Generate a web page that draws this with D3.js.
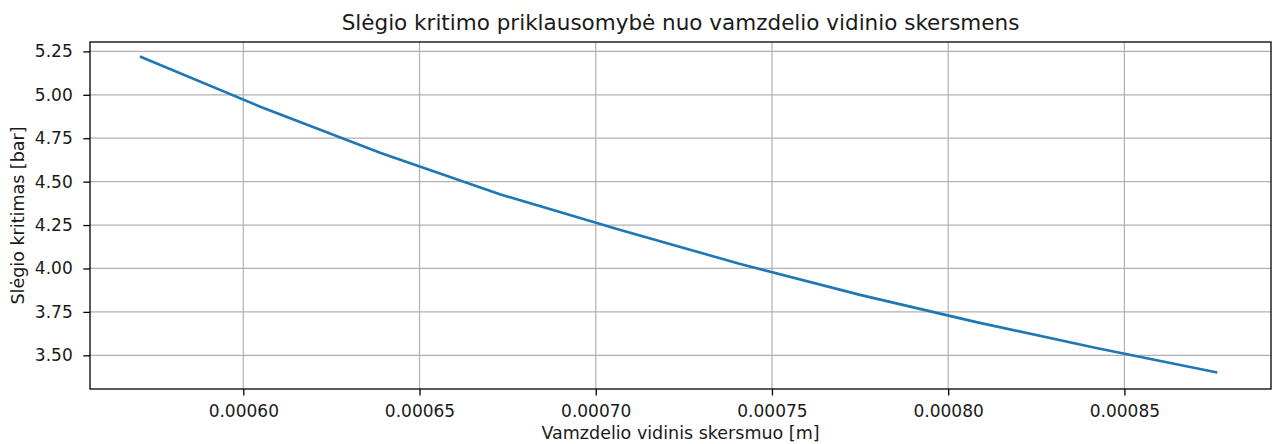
<!DOCTYPE html>
<html>
<head>
<meta charset="utf-8">
<title>Slėgio kritimas</title>
<script src="https://d3js.org/d3.v7.min.js"></script>
<style>
  body { margin: 0; background: #fff; }
  text { font-family: "DejaVu Sans", sans-serif; fill: #1a1a1a; }
</style>
</head>
<body>
<div id="chart"></div>
<script>
// inner diameter [m] and pressure drop [bar]
var diameters = [0.000571, 0.000605, 0.000639, 0.000673, 0.000707, 0.000741, 0.000775, 0.000808, 0.000842, 0.000876];
var pressures = [5.218, 4.93, 4.665, 4.426, 4.221, 4.026, 3.848, 3.691, 3.542, 3.402];
var xTicks = [0.00060, 0.00065, 0.00070, 0.00075, 0.00080, 0.00085];
var yTicks = [3.50, 3.75, 4.00, 4.25, 4.50, 4.75, 5.00, 5.25];

var W = 1276, H = 444;
var margin = {top: 42, right: 5, bottom: 55, left: 90};
var width = W - margin.left - margin.right,
    height = H - margin.top - margin.bottom;

var svg = d3.select("#chart").append("svg")
  .attr("width", W).attr("height", H);
var g = svg.append("g")
  .attr("transform", "translate(" + margin.left + "," + margin.top + ")");

var x = d3.scaleLinear().domain([0.0005565, 0.0008916]).range([0, width]);
var y = d3.scaleLinear().domain([3.306, 5.304]).range([height, 0]);

// grid
g.append("g").selectAll("line").data(xTicks).enter().append("line")
  .attr("x1", function(d) { return x(d); }).attr("x2", function(d) { return x(d); })
  .attr("y1", 0).attr("y2", height)
  .attr("stroke", "#b0b0b0").attr("stroke-width", 1.2);
g.append("g").selectAll("line").data(yTicks).enter().append("line")
  .attr("y1", function(d) { return y(d); }).attr("y2", function(d) { return y(d); })
  .attr("x1", 0).attr("x2", width)
  .attr("stroke", "#b0b0b0").attr("stroke-width", 1.2);

// axes
var xAxis = g.append("g")
  .attr("transform", "translate(0," + height + ")")
  .call(d3.axisBottom(x).tickValues(xTicks).tickFormat(d3.format(".5f")).tickSize(6.5).tickPadding(9.5));
var yAxis = g.append("g")
  .call(d3.axisLeft(y).tickValues(yTicks).tickFormat(d3.format(".2f")).tickSize(6.7).tickPadding(10.6));
[xAxis, yAxis].forEach(function(a) {
  a.select(".domain").remove();
  a.selectAll("line").attr("stroke", "#000").attr("stroke-width", 1.3);
  a.selectAll("text").style("font-size", "17px").style("font-family", "DejaVu Sans").attr("fill", "#1a1a1a");
});

// frame
g.append("rect")
  .attr("width", width).attr("height", height)
  .attr("fill", "none").attr("stroke", "#000").attr("stroke-width", 1.3);

// the curve
var pts = diameters.map(function(d, i) { return [d, pressures[i]]; });
g.append("path")
  .datum(pts)
  .attr("fill", "none")
  .attr("stroke", "#1f77b4")
  .attr("stroke-width", 2.6)
  .attr("stroke-linecap", "square")
  .attr("d", d3.line()
    .x(function(d) { return x(d[0]); })
    .y(function(d) { return y(d[1]); }));

// labels
svg.append("text")
  .attr("x", margin.left + width / 2).attr("y", 30)
  .attr("text-anchor", "middle").style("font-size", "21.5px")
  .text("Slėgio kritimo priklausomybė nuo vamzdelio vidinio skersmens");

svg.append("text")
  .attr("x", margin.left + width / 2).attr("y", 439)
  .attr("text-anchor", "middle").style("font-size", "17.5px")
  .text("Vamzdelio vidinis skersmuo [m]");

svg.append("text")
  .attr("transform", "translate(24," + (margin.top + height / 2) + ") rotate(-90)")
  .attr("text-anchor", "middle").style("font-size", "17.5px")
  .text("Slėgio kritimas [bar]");
</script>
</body>
</html>
